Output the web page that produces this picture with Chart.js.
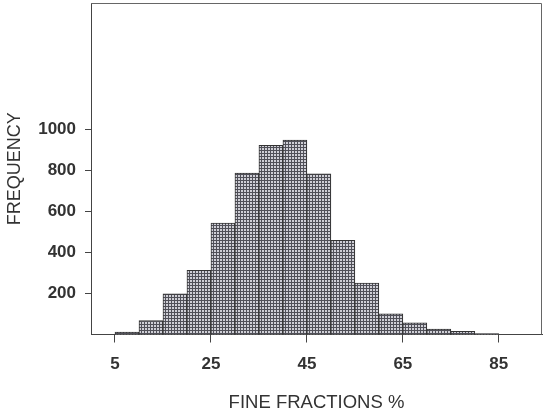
<!DOCTYPE html>
<html>
<head>
<meta charset="utf-8">
<script src="https://cdn.jsdelivr.net/npm/chart.js@4.4.1/dist/chart.umd.min.js"></script>
<style>
html,body{margin:0;padding:0;background:#fff;}
#wrap{width:544px;height:414px;position:relative;}
</style>
</head>
<body>
<div id="wrap"><canvas id="c" width="544" height="414"></canvas></div>
<script>
// Histogram data (bin centres, 5-unit wide bins starting at 5)
const binCenters = [7.5, 12.5, 17.5, 22.5, 27.5, 32.5, 37.5, 42.5, 47.5, 52.5, 57.5, 62.5, 67.5, 72.5, 77.5, 82.5];
const frequencies = [12, 68, 198, 313, 543, 787, 921, 947, 783, 459, 251, 101, 57, 26, 15, 5];
const xTickValues = [5, 25, 45, 65, 85];
const yTickValues = [200, 400, 600, 800, 1000];
const xTitle = 'FINE FRACTIONS %';
const yTitle = 'FREQUENCY';

function makePattern() {
  const p = document.createElement('canvas');
  p.width = 3; p.height = 3;
  const g = p.getContext('2d');
  g.fillStyle = '#505058';
  g.fillRect(0, 0, 3, 3);
  g.fillStyle = '#cfcfd6';
  g.fillRect(1, 1, 2, 2);
  return document.getElementById('c').getContext('2d').createPattern(p, 'repeat');
}

const framePlugin = {
  id: 'frame',
  afterDraw(chart) {
    const {ctx, chartArea: a} = chart;
    ctx.save();
    ctx.strokeStyle = '#666';
    ctx.lineWidth = 1;
    ctx.beginPath();
    ctx.moveTo(a.left, a.top + 0.5);
    ctx.lineTo(a.right - 0.5, a.top + 0.5);
    ctx.lineTo(a.right - 0.5, a.bottom);
    ctx.stroke();
    ctx.restore();
  }
};

const axisColor = '#444';
const fontFam = 'Liberation Sans, Arial, sans-serif';
new Chart(document.getElementById('c'), {
  type: 'bar',
  data: {
    datasets: [{
      data: binCenters.map((x, i) => ({x: x, y: frequencies[i]})),
      backgroundColor: makePattern(),
      borderColor: '#333',
      borderWidth: 1,
      barPercentage: 1,
      categoryPercentage: 1
    }]
  },
  options: {
    responsive: false,
    animation: false,
    events: [],
    layout: {padding: {top: 3, right: 2, left: 0, bottom: 0}},
    plugins: {legend: {display: false}, tooltip: {enabled: false}},
    scales: {
      x: {
        type: 'linear',
        offset: false,
        min: 0, max: 94,
        afterBuildTicks: s => { s.ticks = xTickValues.map(v => ({value: v})); },
        afterFit: s => { s.height = 79.5; s.paddingLeft = 0; s.paddingRight = 0; },
        grid: {display: true, offset: false, drawOnChartArea: false, drawTicks: true, tickLength: 8, color: axisColor},
        border: {display: true, color: axisColor, width: 1},
        ticks: {color: '#333', padding: 12, maxRotation: 0, autoSkip: false,
                callback: v => String(v),
                font: {family: fontFam, size: 17, weight: 'bold'}},
        title: {display: true, text: xTitle, color: '#333', padding: {top: 0, bottom: 0},
                font: {family: fontFam, size: 18.5}}
      },
      y: {
        min: 0, max: 1615,
        afterBuildTicks: s => { s.ticks = yTickValues.map(v => ({value: v})); },
        afterFit: s => { s.width = 91; s.paddingTop = 0; s.paddingBottom = 0; },
        grid: {display: true, drawOnChartArea: false, drawTicks: true, tickLength: 6, color: axisColor},
        border: {display: true, color: axisColor, width: 1},
        ticks: {color: '#333', padding: 9, autoSkip: false,
                callback: v => String(v),
                font: {family: fontFam, size: 17, weight: 'bold'}},
        title: {display: true, text: yTitle, color: '#333', padding: {top: 4, bottom: 0},
                font: {family: fontFam, size: 18}}
      }
    }
  },
  plugins: [framePlugin]
});
</script>
</body>
</html>
